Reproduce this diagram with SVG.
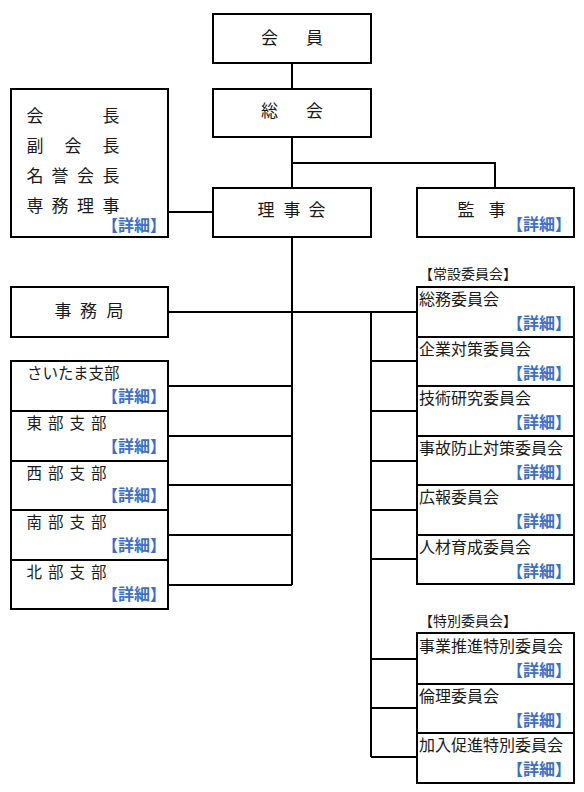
<svg xmlns="http://www.w3.org/2000/svg" width="584" height="792" viewBox="0 0 584 792">
<style>
.box{fill:#fff;stroke:#000;stroke-width:2}
.ln{fill:none;stroke:#000;stroke-width:2}
text{font-family:"Noto Sans CJK JP","Noto Sans",sans-serif;fill:#1a1a1a}
.big{font-size:17px}
.br{font-size:15.5px}
.cm{font-size:16px}
.lab{font-size:14px}
.det{font-size:16px;font-weight:bold;fill:#3d6fc7}
</style>
<rect width="584" height="792" fill="#fff"/>
<g id="connectors">
<path class="ln" d="M292 63V89M292 137V188M292 163H495V188M168 212H213M292 237V585M168 312H417M168 386H292M168 436H292M168 485H292M168 535H292M168 585H292M371 312V757M371 361H417M371 411H417M371 461H417M371 510H417M371 559H417M371 659H417M371 708H417M371 757H417"/>
</g>
<g id="kaiin"><rect class="box" x="213" y="14" width="158" height="49"/><text class="big" x="261 306" y="44">会員</text></g>
<g id="soukai"><rect class="box" x="213" y="89" width="158" height="48"/><text class="big" x="261 306" y="117">総会</text></g>
<g id="rijikai"><rect class="box" x="213" y="188" width="158" height="49"/><text class="big" x="257.5 283.5 308.5" y="216">理事会</text></g>
<g id="kanji"><rect class="box" x="417" y="188" width="157" height="49"/><text class="big" x="457.5 488.5" y="216">監事</text><text class="det" x="507" y="230">【詳細】</text></g>
<g id="yakuin"><rect class="box" x="11" y="89" width="157" height="148"/>
<text class="big" x="26.5 102.5" y="122">会長</text>
<text class="big" x="26.5 64.5 102.5" y="152">副会長</text>
<text class="big" x="26.5 51.5 77 102.5" y="182">名誉会長</text>
<text class="big" x="26.5 51.5 77 102.5" y="212">専務理事</text>
<text class="det" x="102" y="231">【詳細】</text></g>
<g id="jimukyoku"><rect class="box" x="11" y="287" width="157" height="50"/><text class="big" x="54.5 80 106.5" y="317">事務局</text></g>
<g id="saitama"><rect class="box" x="11" y="361" width="157" height="50"/><text class="br" x="27" y="379">さいたま支部</text><text class="det" x="102" y="402">【詳細】</text></g>
<g id="tobu"><rect class="box" x="11" y="411" width="157" height="50"/><text class="br" x="26.5 48 69.5 91" y="429">東部支部</text><text class="det" x="102" y="452">【詳細】</text></g>
<g id="seibu"><rect class="box" x="11" y="461" width="157" height="49"/><text class="br" x="26.5 48 69.5 91" y="479">西部支部</text><text class="det" x="102" y="501">【詳細】</text></g>
<g id="nanbu"><rect class="box" x="11" y="510" width="157" height="50"/><text class="br" x="26.5 48 69.5 91" y="528">南部支部</text><text class="det" x="102" y="551">【詳細】</text></g>
<g id="hokubu"><rect class="box" x="11" y="560" width="157" height="49"/><text class="br" x="26.5 48 69.5 91" y="578">北部支部</text><text class="det" x="102" y="600">【詳細】</text></g>
<text class="lab" x="419" y="279">【常設委員会】</text>
<g id="c1"><rect class="box" x="417" y="287" width="157" height="50"/><text class="cm" x="419" y="305">総務委員会</text><text class="det" x="507" y="329">【詳細】</text></g>
<g id="c2"><rect class="box" x="417" y="337" width="157" height="49"/><text class="cm" x="419" y="355">企業対策委員会</text><text class="det" x="507" y="379">【詳細】</text></g>
<g id="c3"><rect class="box" x="417" y="386" width="157" height="50"/><text class="cm" x="419" y="404">技術研究委員会</text><text class="det" x="507" y="428">【詳細】</text></g>
<g id="c4"><rect class="box" x="417" y="436" width="157" height="49"/><text class="cm" x="419" y="454">事故防止対策委員会</text><text class="det" x="507" y="478">【詳細】</text></g>
<g id="c5"><rect class="box" x="417" y="485" width="157" height="50"/><text class="cm" x="419" y="503">広報委員会</text><text class="det" x="507" y="527">【詳細】</text></g>
<g id="c6"><rect class="box" x="417" y="535" width="157" height="49"/><text class="cm" x="419" y="553">人材育成委員会</text><text class="det" x="507" y="577">【詳細】</text></g>
<text class="lab" x="419" y="626">【特別委員会】</text>
<g id="s1"><rect class="box" x="417" y="633" width="157" height="51"/><text class="cm" x="419" y="652">事業推進特別委員会</text><text class="det" x="507" y="676">【詳細】</text></g>
<g id="s2"><rect class="box" x="417" y="684" width="157" height="49"/><text class="cm" x="419" y="702">倫理委員会</text><text class="det" x="507" y="726">【詳細】</text></g>
<g id="s3"><rect class="box" x="417" y="733" width="157" height="50"/><text class="cm" x="419" y="751">加入促進特別委員会</text><text class="det" x="507" y="775">【詳細】</text></g>
</svg>
